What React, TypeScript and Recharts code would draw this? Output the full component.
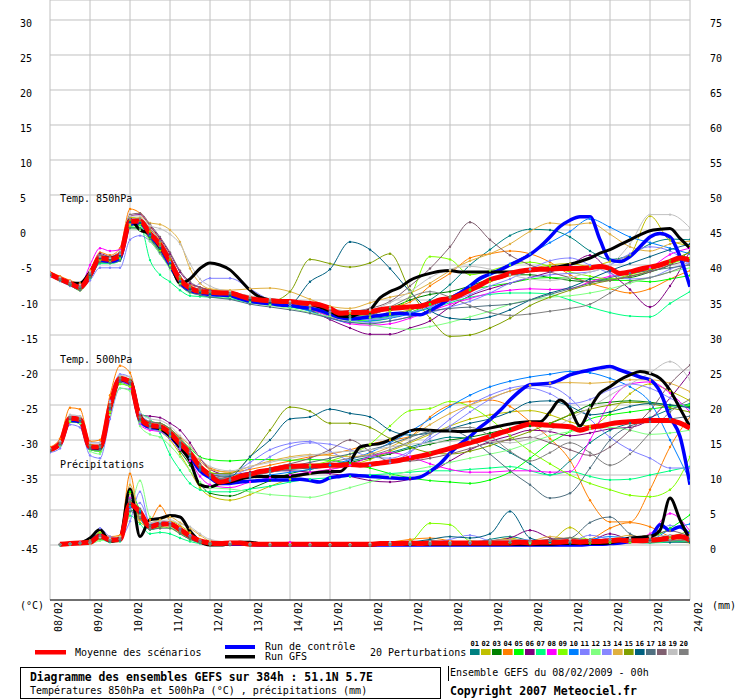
import React from "react";
import { LineChart, Line, XAxis, YAxis, CartesianGrid } from "recharts";

// ---------- axes / categories ----------
const HOURS_6H = [0,6,12,18,24,30,36,42,48,54,60,66,72,78,84,90,96,102,108,114,120,126,132,138,144,150,156,162,168,174,180,186,192,198,204,210,216,222,228,234,240,246,252,258,264,270,276,282,288,294,300,306,312,318,324,330,336,342,348,354,360,366,372,378,384];
const MEMBER_HOURS = [0,6,12,18,24,30,36,42,48,54,60,66,72,78,84,90,96,108,120,132,144,156,168,180,192,204,216,228,240,252,264,276,288,300,312,324,336,348,360,372,384];
const DAY_TICKS = [0,24,48,72,96,120,144,168,192,216,240,264,288,312,336,360,384];
const DAY_LABELS = ["08/02","09/02","10/02","11/02","12/02","13/02","14/02","15/02","16/02","17/02","18/02","19/02","20/02","21/02","22/02","23/02","24/02"];
const LEFT_TICKS = [-45,-40,-35,-30,-25,-20,-15,-10,-5,0,5,10,15,20,25,30];
const RIGHT_TICKS = [0,5,10,15,20,25,30,35,40,45,50,55,60,65,70,75];
const MEMBER_IDS = ["01","02","03","04","05","06","07","08","09","10","11","12","13","14","15","16","17","18","19","20"];
const MEMBER_COLORS = ["#008080","#c0c000","#008000","#ff8000","#00ff00","#800080","#00ff80","#ff00ff","#80ff00","#0080ff","#8080ff","#80ff80","#8888ff","#e0b040","#80a000","#006080","#507080","#806070","#c0c0c0","#808080"];

// ---------- 850 hPa (°C), 6-hourly ----------
const t850Mean = [-6.3,-7.0,-7.6,-8.2,-6.4,-4.0,-4.2,-3.6,1.2,1.3,-0.5,-2.1,-4.5,-7.1,-8.3,-8.8,-8.9,-9.0,-9.0,-9.4,-9.8,-10.0,-10.1,-10.2,-10.2,-10.4,-10.5,-10.7,-11.2,-11.9,-11.8,-11.8,-11.7,-11.4,-11.2,-11.1,-11.0,-10.9,-10.5,-10.0,-9.8,-9.3,-8.6,-7.9,-7.1,-6.7,-6.2,-5.9,-5.7,-5.6,-5.6,-5.5,-5.5,-5.5,-5.4,-5.2,-5.5,-6.2,-6.0,-5.6,-5.3,-5.0,-4.5,-4.0,-4.3];
const t850Gfs = [-6.3,-7.0,-7.6,-7.6,-6.0,-4.0,-4.0,-3.5,1.5,0.0,-0.5,-2.5,-4.5,-7.6,-7.0,-5.5,-4.7,-5.0,-5.7,-7.1,-8.6,-9.6,-10.0,-10.1,-10.2,-10.4,-10.6,-11.0,-11.6,-12.3,-12.4,-11.9,-11.4,-9.7,-8.8,-8.2,-7.2,-6.6,-6.2,-5.9,-5.8,-6.0,-6.0,-6.0,-6.0,-6.0,-6.0,-6.0,-5.8,-5.6,-5.4,-5.2,-4.9,-4.5,-4.0,-3.3,-2.8,-2.1,-1.4,-0.7,-0.1,0.1,0.2,-1.2,-2.6];
const t850Ctrl = [-6.3,-7.0,-7.6,-8.2,-6.6,-4.3,-4.5,-4.0,0.8,1.0,-0.8,-2.5,-5.0,-7.5,-8.6,-9.0,-9.2,-9.3,-9.4,-9.8,-10.2,-10.4,-10.5,-10.7,-10.8,-11.0,-11.2,-11.5,-12.0,-12.5,-12.7,-12.6,-12.4,-12.2,-12.0,-11.9,-12.0,-12.1,-11.5,-10.7,-9.8,-9.0,-8.0,-6.9,-6.3,-5.7,-5.0,-4.3,-3.5,-2.4,-1.0,0.5,1.4,1.9,1.9,-1.4,-4.3,-4.5,-3.8,-2.4,-1.0,-0.5,-1.0,-3.8,-8.1];
const t850Members = [
  [-6.2,-7.1,-7.8,-8.4,-6.6,-4.3,-4.0,-3.8,1.0,0.9,-0.8,-2.6,-4.8,-7.4,-8.6,-9.0,-9.2, -9.3,-10.0,-10.4,-10.6,-11.0,-11.8,-12.5,-12.6,-12.3,-11.5,-10.0,-7.8,-5.0,-2.8,-0.8,0.1,0.0,-1.0,-3.0,-4.2,-3.6,-2.0,-1.3,-1.4],
  [-6.4,-7.0,-7.5,-8.0,-6.2,-3.8,-4.4,-3.4,1.8,1.6,-0.2,-1.8,-4.2,-6.8,-8.0,-8.5,-8.7, -9.0,-9.6,-10.0,-10.4,-10.8,-11.4,-12.0,-12.2,-12.0,-11.4,-10.6,-9.6,-8.5,-7.4,-6.5,-5.6,-5.0,-4.8,-5.2,-4.5,-3.5,2.0,-1.5,-2.2],
  [-6.3,-7.1,-7.7,-8.3,-6.8,-4.4,-4.5,-4.0,0.8,0.7,-1.0,-2.8,-5.0,-7.6,-8.4,-8.8,-9.0, -9.2,-9.9,-10.3,-10.8,-11.3,-11.9,-12.2,-12.0,-11.2,-10.0,-9.2,-8.8,-8.0,-7.0,-6.4,-6.4,-6.8,-7.2,-7.4,-7.0,-6.8,-6.0,-5.0,-3.0],
  [-6.0,-6.6,-7.2,-7.6,-5.8,-3.2,-3.6,-2.6,3.0,2.4,0.5,-1.4,-3.8,-6.6,-7.8,-8.2,-8.5, -8.8,-9.5,-10.0,-10.3,-10.8,-11.4,-11.8,-11.5,-11.0,-10.3,-8.0,-6.2,-4.0,-3.4,-3.0,-3.4,-4.6,-6.4,-7.6,-8.4,-9.0,-8.4,-7.0,-5.8],
  [-6.5,-7.3,-7.9,-8.6,-6.9,-4.6,-4.6,-4.2,0.4,0.3,-1.2,-3.0,-5.2,-7.8,-8.8,-9.1,-9.3, -9.6,-10.2,-10.6,-11.0,-11.5,-12.2,-12.8,-13.0,-12.6,-11.8,-10.6,-9.5,-8.6,-8.0,-7.6,-7.0,-6.8,-6.9,-7.0,-7.2,-7.2,-7.4,-7.0,-6.5],
  [-6.2,-6.8,-7.4,-7.8,-6.0,-3.4,-3.8,-3.0,2.0,2.2,0.6,-1.2,-3.4,-6.0,-7.6,-8.2,-8.6, -9.0,-9.8,-10.3,-10.8,-11.5,-12.8,-14.0,-14.9,-14.9,-14.0,-13.0,-11.0,-9.4,-8.4,-7.6,-6.8,-6.0,-5.0,-3.6,-6.0,-8.5,-11.0,-8.0,-3.0],
  [-6.4,-7.2,-7.8,-8.4,-7.0,-4.8,-4.8,-4.4,0.5,0.7,-4.3,-6.4,-7.4,-8.6,-9.4,-9.5,-9.6, -9.8,-10.4,-10.6,-11.0,-11.4,-12.0,-12.6,-12.8,-12.4,-11.8,-11.2,-10.4,-9.6,-9.2,-9.0,-9.0,-9.2,-10.0,-11.0,-11.8,-12.3,-12.4,-10.5,-8.8],
  [-6.3,-7.0,-7.6,-8.0,-5.0,-2.6,-3.0,-2.8,1.5,1.2,-0.5,-2.4,-4.6,-7.2,-8.2,-8.7,-9.0, -9.2,-9.8,-10.2,-10.6,-11.3,-12.4,-13.4,-13.6,-13.4,-12.6,-11.6,-10.6,-9.8,-9.0,-8.6,-8.4,-8.5,-8.4,-7.4,-6.6,-6.2,-5.4,-3.5,-2.6],
  [-6.5,-7.2,-7.9,-8.5,-6.7,-4.4,-4.4,-4.0,0.6,0.8,-1.4,-3.0,-5.0,-7.6,-8.6,-8.9,-9.1, -9.4,-10.0,-10.5,-10.9,-11.3,-11.8,-12.4,-12.5,-11.6,-9.5,-3.8,-4.2,-6.4,-5.8,-5.0,-4.6,-5.2,-6.0,-6.6,-7.0,-6.4,-5.6,-4.8,-4.0],
  [-6.3,-7.0,-7.7,-8.2,-6.5,-4.1,-4.3,-3.8,1.0,1.1,-0.8,-2.4,-4.6,-7.2,-8.4,-8.8,-9.1, -9.4,-10.0,-10.4,-10.9,-11.6,-12.6,-13.2,-13.0,-12.6,-12.0,-11.0,-9.6,-8.0,-6.4,-4.8,-3.4,-1.8,-0.2,1.6,0.4,-1.0,-1.8,-2.6,-3.4],
  [-6.6,-7.3,-8.0,-8.4,-7.2,-5.4,-5.4,-5.4,-1.4,-0.8,-1.6,-3.4,-5.4,-7.4,-8.6,-7.6,-6.9, -6.9,-8.4,-10.0,-10.6,-11.2,-12.0,-12.8,-13.2,-13.0,-12.4,-11.8,-11.0,-10.2,-9.0,-7.6,-6.8,-6.4,-6.2,-6.0,-5.0,-3.4,-2.4,-3.0,-5.0],
  [-6.4,-7.0,-7.6,-8.1,-6.4,-4.2,-4.0,-3.8,0.2,0.0,-1.6,-3.4,-5.6,-7.8,-9.0,-9.2,-9.4, -9.6,-10.4,-10.8,-11.2,-11.8,-12.4,-13.0,-13.5,-14.0,-14.2,-13.8,-13.2,-12.4,-11.6,-10.6,-10.0,-9.6,-9.4,-9.0,-8.4,-7.6,-6.8,-6.0,-5.4],
  [-6.3,-7.0,-7.7,-8.2,-6.3,-3.9,-4.1,-3.5,0.9,1.0,-0.6,-2.2,-4.4,-7.0,-8.1,-8.5,-8.8, -9.1,-9.8,-10.2,-10.6,-11.0,-11.6,-12.4,-12.8,-12.5,-11.8,-11.0,-10.2,-9.2,-8.0,-7.0,-5.6,-4.4,-4.0,-5.0,-6.2,-7.0,-6.8,-5.6,-4.6],
  [-6.2,-6.8,-7.4,-8.6,-5.8,-4.4,-4.6,-3.0,0.8,1.8,1.0,0.8,0.0,-1.7,-5.5,-7.6,-8.4, -8.6,-8.4,-8.3,-8.8,-9.9,-10.9,-11.2,-10.4,-9.6,-9.0,-7.6,-5.8,-4.4,-3.4,-2.0,-0.2,1.0,0.7,1.0,-0.6,-2.4,-3.0,-2.0,-1.6],
  [-6.4,-7.1,-7.8,-8.3,-6.6,-4.2,-4.3,-3.8,1.4,1.2,-0.4,-2.2,-4.3,-7.0,-8.2,-8.6,-8.9, -9.1,-9.8,-10.2,-8.8,-4.2,-4.8,-5.3,-4.7,-3.4,-8.6,-12.6,-15.2,-15.0,-14.0,-12.6,-10.8,-9.6,-8.6,-7.8,-7.2,-6.6,-5.8,-4.4,-3.2],
  [-6.3,-7.0,-7.6,-8.2,-6.4,-4.0,-4.2,-3.7,1.1,1.0,-0.6,-2.6,-4.8,-7.4,-8.5,-9.0,-9.2, -9.4,-10.0,-10.4,-10.5,-7.4,-5.6,-1.7,-2.8,-5.5,-8.8,-11.5,-12.6,-12.8,-12.4,-11.4,-10.0,-9.0,-8.2,-7.0,-5.8,-4.8,-3.8,-2.8,-2.0],
  [-6.4,-7.2,-7.9,-8.6,-6.8,-4.6,-4.7,-4.4,0.3,0.2,-1.3,-3.2,-5.4,-7.9,-8.9,-9.3,-9.6, -9.9,-10.6,-11.0,-11.4,-11.9,-12.6,-13.2,-13.4,-13.0,-12.4,-11.6,-11.2,-11.0,-10.8,-10.6,-10.0,-9.2,-8.4,-7.6,-6.8,-6.2,-5.8,-5.4,-5.0],
  [-6.2,-6.9,-7.5,-8.0,-6.2,-3.6,-4.0,-3.0,2.2,2.4,0.8,-1.0,-3.2,-5.8,-7.4,-8.2,-8.6, -9.0,-9.6,-10.0,-10.4,-10.8,-11.4,-11.6,-11.2,-10.2,-8.0,-5.5,-2.4,1.1,-1.4,-3.6,-5.0,-6.0,-6.8,-7.4,-7.2,-6.6,-6.0,-5.0,-4.4],
  [-6.2,-6.8,-7.3,-7.8,-6.0,-3.8,-4.0,-3.0,2.0,2.0,0.6,0.2,-0.6,-2.0,-4.8,-7.0,-8.0, -8.8,-9.4,-9.8,-10.2,-10.8,-11.2,-11.6,-11.4,-10.4,-8.8,-6.8,-5.6,-5.2,-5.6,-6.4,-7.0,-7.2,-6.8,-6.0,-5.0,-2.0,2.2,2.2,0.3],
  [-6.3,-7.0,-7.6,-8.1,-6.2,-3.6,-3.8,-3.2,1.6,1.6,0.2,-1.6,-3.8,-6.6,-8.0,-8.5,-8.8, -9.0,-9.7,-10.1,-10.5,-11.0,-11.8,-12.4,-12.2,-11.0,-9.6,-8.8,-9.6,-10.8,-11.8,-12.2,-12.0,-11.6,-11.2,-10.6,-9.0,-7.4,-6.8,-6.0,-4.8],
];

// ---------- 500 hPa (°C), 6-hourly ----------
const t500Mean = [-31.4,-30.5,-26.9,-27.1,-31.0,-31.0,-25.2,-21.2,-21.7,-26.9,-27.9,-28.1,-29.0,-30.5,-31.9,-33.8,-35.0,-36.0,-35.7,-35.2,-34.9,-34.5,-34.3,-34.0,-33.8,-33.7,-33.7,-33.7,-33.6,-33.6,-33.5,-33.6,-33.5,-33.3,-33.1,-32.9,-32.6,-32.3,-32.0,-31.6,-31.2,-30.8,-30.4,-30.0,-29.5,-29.0,-28.6,-28.1,-27.7,-27.8,-27.9,-28.0,-28.1,-28.6,-28.2,-28.0,-27.7,-27.5,-27.4,-27.3,-27.2,-27.2,-27.2,-27.6,-28.3];
const t500Gfs = [-31.4,-30.6,-27.0,-27.0,-31.0,-31.2,-25.6,-21.4,-21.5,-26.5,-28.0,-28.4,-29.4,-31.0,-33.0,-36.4,-36.7,-36.2,-36.0,-35.6,-35.3,-35.2,-35.2,-35.2,-35.2,-35.0,-34.8,-34.6,-34.5,-34.5,-33.1,-31.0,-30.7,-30.5,-30.0,-29.3,-28.7,-28.5,-28.6,-28.7,-28.7,-28.8,-28.7,-28.6,-28.3,-28.0,-27.7,-27.5,-27.4,-27.4,-26.0,-24.3,-25.5,-28.0,-25.5,-23.3,-22.4,-21.4,-20.7,-20.2,-20.5,-21.2,-22.9,-25.5,-28.1];
const t500Ctrl = [-31.4,-30.6,-27.2,-27.4,-31.2,-31.2,-25.4,-21.4,-21.9,-27.2,-28.2,-28.4,-29.4,-31.0,-32.4,-34.4,-35.4,-36.2,-36.2,-36.0,-35.9,-35.8,-35.7,-35.7,-35.7,-35.6,-35.8,-36.0,-35.4,-35.2,-35.0,-35.1,-35.2,-35.3,-35.4,-35.5,-35.5,-35.3,-34.5,-33.4,-31.9,-30.6,-29.5,-28.2,-27.1,-25.8,-24.3,-23.0,-22.1,-22.0,-21.9,-21.4,-20.7,-20.3,-20.0,-19.7,-19.5,-20.0,-20.5,-21.0,-21.4,-23.1,-26.7,-29.5,-36.4];
const t500Members = [
  [-31.6,-30.8,-27.2,-27.6,-31.4,-31.6,-25.8,-21.8,-22.2,-27.4,-28.2,-28.4,-29.4,-31.0,-32.6,-34.4,-35.4, -35.8,-35.2,-34.6,-34.2,-34.0,-33.6,-33.0,-32.4,-31.8,-31.0,-30.2,-29.6,-29.8,-30.4,-31.8,-33.4,-35.0,-33.0,-30.4,-28.6,-27.6,-26.8,-25.6,-24.8],
  [-31.2,-30.2,-26.6,-26.8,-30.6,-30.8,-25.0,-21.0,-21.6,-27.0,-28.2,-28.8,-30.0,-32.0,-34.4,-36.8,-38.0, -38.6,-37.8,-36.6,-35.6,-34.8,-34.2,-33.6,-32.8,-31.6,-30.4,-29.2,-28.0,-27.0,-26.4,-26.0,-25.8,-26.4,-27.4,-28.0,-26.2,-23.4,-22.0,-23.0,-24.4],
  [-31.4,-30.6,-27.0,-27.2,-31.0,-31.2,-25.4,-21.6,-22.0,-27.2,-28.0,-28.4,-29.6,-31.6,-33.6,-36.2,-37.6, -38.0,-37.0,-35.8,-34.8,-34.2,-33.6,-33.2,-32.6,-32.0,-31.2,-30.6,-30.0,-29.6,-29.0,-28.4,-28.0,-27.6,-26.4,-25.0,-24.6,-24.4,-24.6,-25.0,-25.2],
  [-31.0,-29.8,-25.4,-25.6,-30.2,-30.0,-23.6,-19.4,-20.4,-26.0,-27.4,-27.6,-28.4,-29.6,-30.8,-32.6,-34.0, -34.6,-34.2,-33.6,-33.0,-32.4,-32.0,-31.4,-30.6,-30.0,-29.5,-26.7,-25.0,-24.5,-24.3,-25.2,-27.4,-29.8,-32.9,-38.6,-41.7,-41.7,-37.1,-31.0,-26.7],
  [-31.4,-30.4,-26.8,-27.0,-30.8,-30.8,-25.0,-21.0,-21.6,-26.6,-27.4,-27.6,-28.4,-29.8,-31.2,-32.4,-32.8, -33.0,-32.8,-32.8,-32.9,-32.8,-32.9,-33.4,-34.0,-34.8,-35.4,-35.8,-36.0,-36.2,-35.7,-34.6,-32.6,-30.4,-28.8,-27.0,-26.4,-26.0,-25.6,-25.2,-25.0],
  [-31.6,-30.8,-27.4,-27.6,-31.2,-31.4,-25.6,-21.6,-21.8,-26.4,-26.6,-26.8,-27.6,-28.6,-30.4,-32.6,-34.2, -35.0,-34.6,-34.4,-34.4,-34.6,-34.8,-35.2,-35.8,-36.0,-35.6,-34.6,-33.0,-31.4,-30.2,-29.4,-28.6,-28.8,-29.4,-29.0,-28.4,-28.2,-27.0,-24.0,-20.4],
  [-31.6,-30.8,-27.4,-27.6,-31.4,-31.6,-25.8,-22.0,-22.4,-26.0,-27.0,-29.0,-32.1,-34.3,-36.2,-37.1,-37.4, -37.4,-37.0,-36.6,-36.0,-35.6,-35.4,-35.2,-35.0,-34.8,-34.6,-34.4,-34.4,-34.2,-34.0,-33.8,-34.4,-35.0,-34.5,-35.2,-35.7,-35.6,-35.0,-34.4,-33.8],
  [-31.4,-30.6,-27.0,-27.2,-31.2,-31.4,-25.6,-21.6,-22.6,-27.8,-28.6,-28.8,-29.8,-31.4,-33.0,-35.2,-36.4, -36.8,-36.0,-35.4,-35.0,-34.6,-34.2,-33.6,-32.4,-31.8,-32.4,-33.4,-34.2,-34.6,-34.6,-34.4,-34.4,-34.6,-34.5,-30.0,-24.6,-22.0,-21.7,-23.3,-26.0],
  [-31.6,-30.8,-27.4,-27.6,-31.4,-31.6,-26.0,-22.0,-22.4,-27.4,-28.4,-28.6,-29.4,-30.8,-32.2,-33.6,-34.6, -35.0,-34.8,-34.4,-34.0,-33.6,-33.0,-32.0,-30.6,-28.0,-25.8,-25.5,-24.5,-25.2,-27.0,-29.4,-31.6,-33.4,-35.0,-36.2,-37.1,-37.9,-38.1,-37.1,-32.4],
  [-31.2,-30.4,-26.8,-27.0,-30.8,-30.8,-25.0,-21.0,-21.6,-26.8,-27.8,-28.2,-29.2,-30.8,-32.4,-34.2,-35.4, -35.8,-35.4,-35.0,-34.6,-34.2,-33.6,-32.8,-31.8,-30.4,-28.8,-27.0,-25.2,-23.6,-22.4,-21.6,-21.0,-20.6,-20.2,-20.4,-21.2,-22.4,-24.6,-30.0,-35.8],
  [-31.8,-31.2,-27.8,-28.2,-32.2,-32.6,-27.0,-22.6,-22.8,-27.6,-28.4,-28.8,-29.8,-31.2,-32.6,-34.0,-34.8, -34.8,-33.2,-31.4,-30.5,-30.2,-31.6,-33.0,-33.6,-33.2,-31.8,-29.4,-27.0,-25.0,-23.6,-22.6,-22.2,-22.4,-24.0,-27.0,-29.6,-31.4,-32.6,-34.0,-34.0],
  [-31.4,-30.8,-27.2,-27.6,-31.6,-32.0,-26.4,-22.6,-23.0,-28.0,-29.2,-29.6,-30.8,-32.4,-34.4,-36.0,-36.8, -37.0,-37.4,-37.8,-38.0,-38.2,-37.6,-36.8,-36.0,-35.2,-34.4,-33.8,-33.2,-32.6,-32.0,-31.4,-30.4,-29.4,-28.8,-28.4,-28.2,-28.6,-29.2,-29.0,-28.6],
  [-31.2,-30.2,-26.6,-26.6,-30.4,-30.4,-24.4,-20.6,-21.0,-26.2,-27.4,-27.8,-28.8,-30.4,-31.8,-33.6,-34.8, -35.0,-34.0,-32.4,-31.0,-30.4,-30.6,-31.4,-32.4,-32.6,-31.6,-29.8,-28.0,-26.0,-24.2,-23.0,-22.6,-23.4,-24.8,-24.2,-22.8,-22.0,-22.6,-24.0,-25.6],
  [-31.4,-30.6,-27.0,-27.2,-31.0,-31.0,-25.2,-21.4,-21.8,-26.8,-27.6,-27.8,-28.6,-30.0,-31.4,-33.0,-34.2, -34.6,-33.8,-33.0,-32.4,-32.1,-32.2,-32.4,-32.0,-31.0,-29.6,-27.8,-26.2,-25.0,-24.0,-23.0,-22.2,-21.9,-21.8,-21.9,-21.7,-21.4,-21.4,-21.9,-23.1],
  [-31.2,-30.4,-26.8,-27.0,-30.8,-31.0,-25.0,-21.0,-21.4,-26.6,-27.6,-28.0,-29.0,-30.6,-32.0,-33.8,-34.8, -34.8,-32.4,-28.6,-25.3,-25.9,-27.6,-27.6,-28.2,-29.8,-31.0,-31.8,-32.0,-31.6,-30.8,-29.8,-28.8,-27.6,-26.4,-25.6,-25.0,-24.6,-24.8,-25.4,-26.0],
  [-31.4,-30.6,-27.0,-27.2,-31.2,-31.2,-25.4,-21.4,-21.8,-27.0,-27.8,-28.0,-28.8,-30.4,-32.2,-34.0,-35.0, -35.2,-32.4,-30.0,-27.0,-26.7,-25.6,-26.2,-26.7,-28.6,-29.3,-29.0,-28.4,-27.6,-27.0,-26.0,-24.6,-24.4,-25.2,-26.4,-26.0,-25.2,-24.8,-25.0,-25.4],
  [-31.6,-30.6,-27.0,-27.4,-31.2,-31.4,-25.6,-21.6,-22.0,-27.2,-28.0,-28.2,-29.0,-30.6,-32.2,-34.0,-35.2, -35.6,-35.0,-34.4,-33.8,-33.2,-32.6,-32.0,-31.4,-30.6,-29.6,-28.8,-28.6,-29.8,-32.0,-34.4,-36.4,-38.3,-37.6,-34.0,-30.0,-28.0,-27.4,-27.0,-26.6],
  [-31.4,-30.4,-26.8,-27.0,-30.8,-30.8,-25.0,-21.2,-21.6,-26.6,-27.4,-27.6,-28.4,-29.8,-31.4,-33.4,-34.8, -35.4,-34.8,-34.0,-33.4,-32.6,-31.4,-30.0,-31.6,-33.0,-33.0,-32.6,-32.0,-31.2,-30.4,-30.0,-29.6,-30.4,-31.4,-32.2,-31.0,-28.6,-25.8,-22.0,-19.3],
  [-31.2,-30.2,-26.4,-26.6,-30.4,-30.4,-24.6,-20.8,-21.0,-26.0,-27.0,-27.2,-28.0,-29.4,-30.8,-32.6,-33.8, -34.4,-33.8,-33.2,-32.6,-32.2,-31.8,-31.6,-31.4,-31.0,-30.6,-30.4,-30.2,-30.0,-30.2,-30.4,-29.8,-28.6,-27.0,-25.4,-23.6,-22.0,-20.4,-18.8,-21.4],
  [-31.4,-30.4,-26.8,-27.0,-30.8,-31.0,-25.2,-21.2,-21.6,-26.8,-27.8,-28.0,-28.8,-30.2,-31.6,-33.6,-35.0, -35.6,-35.2,-34.6,-34.2,-33.8,-33.2,-32.6,-32.2,-31.4,-30.2,-29.0,-28.4,-28.2,-29.4,-31.6,-33.0,-31.8,-30.4,-31.8,-33.6,-32.0,-29.0,-26.0,-24.2],
];

// ---------- precipitation (mm), 6-hourly ----------
const rainMean = [null,0.1,0.2,0.3,0.4,1.3,0.7,0.8,5.8,4.7,2.6,3.0,3.0,2.2,1.3,0.6,0.3,0.2,0.3,0.3,0.1,0.1,0.1,0.1,0.1,0.1,0.1,0.1,0.1,0.1,0.1,0.1,0.1,0.2,0.2,0.2,0.3,0.2,0.3,0.3,0.3,0.3,0.3,0.3,0.3,0.3,0.3,0.4,0.3,0.4,0.4,0.4,0.5,0.4,0.5,0.5,0.6,0.7,0.6,0.6,0.7,0.8,1.0,1.2,0.7];
const rainGfs = [null,0.0,0.2,0.3,1.0,2.2,0.5,1.0,8.0,1.2,3.6,3.8,4.2,4.0,2.0,0.5,0.0,0.0,0.2,0.4,0.4,0.2,0.1,0.1,0.1,0.1,0.1,0.0,0.0,0.0,0.0,0.0,0.0,0.1,0.1,0.1,0.1,0.1,0.1,0.1,0.1,0.1,0.1,0.1,0.1,0.1,0.1,0.1,0.1,0.1,0.1,0.2,0.2,0.2,0.2,0.2,0.3,0.6,1.0,1.1,1.2,2.1,6.7,3.6,0.7];
const rainCtrl = [null,0.1,0.2,0.3,0.5,1.4,0.6,0.8,5.6,4.6,2.6,2.9,3.0,2.2,1.2,0.5,0.2,0.1,0.1,0.1,0.1,0.0,0.0,0.0,0.0,0.0,0.0,0.0,0.0,0.0,0.0,0.0,0.0,0.0,0.0,0.0,0.0,0.0,0.0,0.0,0.0,0.0,0.0,0.0,0.0,0.0,0.0,0.0,0.0,0.0,0.0,0.0,0.0,0.0,0.1,0.1,0.2,0.3,0.5,0.8,1.0,2.9,2.1,2.6,1.2];
const rainMembers = [
  [null,0,0.1,0.3,0.6,1.6,0.6,0.9,6.5,3.8,2.2,2.6,3.2,2.4,1.2,0.4,0.1, 0.1,0,0,0,0,0,0,0,0.1,0.3,0.6,0.4,0.2,0.8,1.2,0.6,0.3,0.2,0.4,0.6,0.4,0.3,0.8,1.6],
  [null,0.1,0.2,0.2,0.3,0.8,1.0,1.2,7.4,3.2,2.6,2.4,3.4,2.8,1.8,0.8,0.3, 0.2,0,0,0,0,0,0,0.1,0.1,0.2,0.2,0.3,0.3,0.5,1.0,0.4,0.6,2.5,0.6,0.4,0.8,1.2,0.6,0.3],
  [null,0.1,0.1,0.3,0.4,1.4,0.5,0.6,5.0,4.2,2.4,2.8,3.0,2.0,1.0,0.4,0.2, 0.2,0.1,0,0,0,0,0,0,0.1,0.2,0.3,0.4,0.4,0.3,0.2,0.2,0.3,0.4,0.5,0.8,0.6,0.4,0.8,1.4],
  [null,0.1,0.2,0.3,0.6,1.8,1.2,1.4,10.2,3.6,3.6,5.6,3.4,2.6,1.6,0.8,0.4, 0.2,0.1,0,0,0,0,0,0.1,0.4,0.8,1.0,0.6,0.2,0.2,0.3,0.4,0.6,0.4,0.8,2.4,3.2,2.6,1.2,0.4],
  [null,0,0.1,0.2,0.4,1.2,0.8,1.0,7.6,5.0,3.0,3.2,2.8,2.0,1.2,0.5,0.2, 0.1,0,0,0,0,0,0,0,0,0.1,0.2,0.3,0.3,0.3,0.4,0.4,0.6,0.8,0.6,0.4,0.6,1.0,2.4,4.3],
  [null,0.1,0.2,0.4,0.6,1.2,0.6,0.8,6.0,4.6,2.6,2.8,2.8,1.8,1.0,0.5,0.2, 0.1,0,0,0,0,0,0,0,0.1,0.2,0.2,0.3,0.4,0.6,1.0,2.1,1.0,0.4,0.6,1.6,0.8,0.6,1.4,0.8],
  [null,0,0.1,0.2,0.3,0.8,0.4,0.5,4.2,3.0,1.6,1.8,1.6,1.0,0.5,0.2,0.1, 0,0,0,0,0,0,0,0,0,0,0.1,0.1,0.2,0.2,0.3,0.2,0.3,0.3,0.2,0.3,0.4,0.3,0.4,0.6],
  [null,0.1,0.2,0.4,0.4,1.4,0.8,1.0,6.8,4.4,2.4,2.8,3.0,2.0,1.2,0.6,0.3, 0.2,0.1,0.1,0.4,0.2,0.1,0.1,0.1,0.2,0.3,0.4,0.3,0.2,0.3,0.4,0.5,0.6,0.8,0.6,0.6,0.8,1.6,4.5,2.0],
  [null,0.1,0.1,0.3,0.6,1.8,0.6,0.8,5.6,4.0,2.2,2.6,2.4,1.6,0.8,0.3,0.1, 0,0,0,0,0,0,0,0,0.2,0.5,3.1,2.9,0.6,0.4,0.3,0.4,0.6,1.0,0.8,0.6,0.4,0.6,1.2,2.0],
  [null,0,0.1,0.2,0.3,1.0,0.6,0.8,5.4,4.8,2.6,3.2,3.0,2.2,1.4,0.6,0.2, 0.1,0,0,0,0,0,0,0,0,0.1,0.1,0.2,0.2,0.2,0.3,0.3,0.4,0.6,0.8,1.2,1.0,0.8,2.2,3.0],
  [null,0.1,0.2,0.3,0.5,2.4,1.2,1.0,3.4,7.6,3.0,3.4,3.2,2.2,1.4,0.6,0.3, 0.2,0.1,0,0,0,0,0,0.2,0.4,0.2,0.3,0.4,0.5,0.6,0.8,0.7,0.6,0.5,1.4,0.8,0.6,0.5,0.8,1.2],
  [null,0,0.1,0.2,0.2,0.6,0.8,1.0,4.6,9.2,4.0,3.4,2.6,1.8,1.0,0.4,0.2, 0.1,0,0,0,0,0,0,0,0,0.1,0.2,0.2,0.3,0.3,0.4,0.3,0.3,0.4,0.4,0.5,0.6,0.5,0.8,1.0],
  [null,0.1,0.1,0.3,0.4,1.2,0.6,0.8,5.0,6.0,3.2,3.0,3.2,2.4,1.4,0.6,0.3, 0.2,0.1,0.1,0,0,0,0,0,0.1,0.2,0.3,0.8,1.4,0.6,0.4,0.5,0.6,0.4,0.6,0.8,1.0,1.2,2.8,1.6],
  [null,0.1,0.2,0.3,0.4,1.0,0.8,1.2,8.6,4.0,3.2,3.6,4.0,3.2,2.4,1.4,0.6, 0.3,0.2,0.1,0.1,0.1,0.1,0.1,0.2,0.2,0.3,0.4,0.5,0.4,0.6,0.8,0.6,1.2,0.8,0.6,0.8,1.4,0.8,1.0,1.4],
  [null,0.1,0.1,0.2,0.3,0.9,0.6,0.9,6.2,4.4,2.6,2.8,2.8,1.8,1.0,0.4,0.2, 0.1,0,0,0,0,0,0,0,0.1,0.2,0.3,0.3,0.3,0.2,0.3,0.5,0.6,0.4,0.3,0.4,0.8,1.4,1.2,0.6],
  [null,0.1,0.2,0.3,0.4,1.2,0.7,0.9,5.8,4.6,2.8,3.0,3.0,2.2,1.2,0.5,0.2, 0.1,0,0,0,0,0,0,0,0.2,0.4,0.8,1.2,1.0,1.6,4.8,1.0,0.4,0.3,0.6,0.8,0.6,0.6,0.4,0.4],
  [null,0,0.1,0.2,0.3,1.0,0.5,0.6,4.8,3.8,2.2,2.4,2.4,1.6,0.8,0.3,0.1, 0,0,0,0,0,0,0,0,0.1,0.1,0.2,0.2,0.4,0.6,0.4,0.5,0.8,1.0,3.2,4.0,1.6,0.8,0.6,0.8],
  [null,0.1,0.2,0.3,0.5,1.4,0.8,1.0,6.0,5.2,2.8,3.0,3.0,2.2,1.2,0.6,0.3, 0.2,0.1,0.1,0,0,0,0,0.1,0.2,0.3,0.4,0.4,0.3,0.4,0.6,0.5,0.8,1.0,0.6,0.8,1.0,1.4,2.0,1.2],
  [null,0.1,0.2,0.3,0.4,1.1,0.9,1.2,7.0,4.2,3.2,3.4,3.6,3.0,2.6,1.6,0.8, 0.4,0.2,0.2,0.1,0.1,0.1,0.1,0.2,0.3,0.4,0.5,0.4,0.4,0.5,0.6,0.5,0.6,0.8,0.6,0.8,1.0,1.2,1.4,1.2],
  [null,0.1,0.2,0.3,0.4,1.3,0.7,0.9,6.4,4.0,2.4,2.8,2.8,2.0,1.2,0.5,0.2, 0.1,0.1,0,0,0,0,0,0,0.1,0.2,0.3,0.3,0.3,0.4,0.5,0.6,0.6,0.5,0.6,0.8,0.6,0.4,0.6,0.8],
];

const FONT = "'DejaVu Sans Mono', monospace";
const toPts = (hours: number[], vals: (number | null)[]) => hours.map((h, i) => ({ h, v: vals[i] }));

function XTick(props: any) {
  const { x, payload } = props;
  const label = DAY_LABELS[DAY_TICKS.indexOf(payload.value)];
  const tx = x + 12;
  const ty = 602;
  return (
    <text x={tx} y={ty} transform={`rotate(-90 ${tx} ${ty})`} textAnchor="end" fontFamily={FONT} fontSize={10} fill="#000">
      {label}
    </text>
  );
}
function LeftTick(props: any) {
  const { y, payload } = props;
  return (
    <text x={20} y={y + 7.5} textAnchor="start" fontFamily={FONT} fontSize={10} fill="#000">
      {payload.value}
    </text>
  );
}
function RightTick(props: any) {
  const { y, payload } = props;
  return (
    <text x={710} y={y + 7.5} textAnchor="start" fontFamily={FONT} fontSize={10} fill="#000">
      {payload.value}
    </text>
  );
}

function memberLine(key: string, vals: (number | null)[], color: string, axis: string) {
  return (
    <Line
      key={key}
      yAxisId={axis}
      data={toPts(MEMBER_HOURS, vals)}
      dataKey="v"
      type="monotone"
      stroke={color}
      strokeWidth={1}
      dot={{ r: 1.2, fill: color, stroke: "none" }}
      activeDot={false}
      isAnimationActive={false}
      legendType="none"
    />
  );
}
function mainLine(key: string, hours: number[], vals: (number | null)[], color: string, width: number, axis: string) {
  return (
    <Line
      key={key}
      yAxisId={axis}
      data={toPts(hours, vals)}
      dataKey="v"
      type="monotone"
      stroke={color}
      strokeWidth={width}
      dot={false}
      activeDot={false}
      isAnimationActive={false}
      legendType="none"
    />
  );
}

export default function App() {
  const txt = { fontFamily: FONT, fontSize: 10, fill: "#000" } as const;
  return (
    <div style={{ position: "absolute", left: 0, top: 0, width: 740, height: 700, background: "#fff" }}>
      <LineChart width={740} height={700} margin={{ top: 0, right: 0, bottom: 0, left: 0 }}>
        <CartesianGrid yAxisId="left" stroke="#c0c0c0" strokeWidth={1} />
        <XAxis
          dataKey="h"
          type="number"
          domain={[0, 384]}
          ticks={DAY_TICKS}
          height={100}
          tick={<XTick />}
          tickLine={false}
          axisLine={{ stroke: "#000" }}
          allowDataOverflow
        />
        <YAxis
          yAxisId="left"
          type="number"
          domain={[-52.857, 32.857]}
          ticks={LEFT_TICKS}
          width={50}
          tick={<LeftTick />}
          tickLine={false}
          axisLine={false}
          allowDataOverflow
        />
        <YAxis
          yAxisId="right"
          orientation="right"
          type="number"
          domain={[-7.857, 77.857]}
          ticks={RIGHT_TICKS}
          width={50}
          tick={<RightTick />}
          tickLine={false}
          axisLine={false}
          allowDataOverflow
        />
        {t850Members.map((v, k) => memberLine("a" + k, v, MEMBER_COLORS[k], "left"))}
        {t500Members.map((v, k) => memberLine("b" + k, v, MEMBER_COLORS[k], "left"))}
        {rainMembers.map((v, k) => memberLine("c" + k, v, MEMBER_COLORS[k], "right"))}
        {mainLine("ctrl850", HOURS_6H, t850Ctrl, "#0000ff", 3.5, "left")}
        {mainLine("ctrl500", HOURS_6H, t500Ctrl, "#0000ff", 3.5, "left")}
        {mainLine("ctrlR", HOURS_6H, rainCtrl, "#0000ff", 3.5, "right")}
        {mainLine("gfs850", HOURS_6H, t850Gfs, "#000000", 3, "left")}
        {mainLine("gfs500", HOURS_6H, t500Gfs, "#000000", 3, "left")}
        {mainLine("gfsR", HOURS_6H, rainGfs, "#000000", 3, "right")}
        {mainLine("mean850", HOURS_6H, t850Mean, "#ff0000", 5, "left")}
        {mainLine("mean500", HOURS_6H, t500Mean, "#ff0000", 5, "left")}
        {mainLine("meanR", HOURS_6H, rainMean, "#ff0000", 5, "right")}
      </LineChart>
      <svg width={740} height={700} style={{ position: "absolute", left: 0, top: 0, pointerEvents: "none" }}>
        <text x={60} y={202} {...txt}>Temp. 850hPa</text>
        <text x={60} y={363} {...txt}>Temp. 500hPa</text>
        <text x={60} y={468} {...txt}>Précipitations</text>
        <text x={20} y={609} {...txt}>(°C)</text>
        <text x={712} y={609} {...txt}>(mm)</text>

        <rect x={35} y={650} width={31} height={4.5} fill="#ff0000" />
        <text x={75} y={656} {...txt}>Moyenne des scénarios</text>
        <rect x={225} y={645} width={30} height={4} fill="#0000ff" />
        <rect x={225} y={655} width={30} height={3.5} fill="#000000" />
        <text x={265} y={650} {...txt}>Run de contrôle</text>
        <text x={265} y={660} {...txt}>Run GFS</text>
        <text x={370} y={656} {...txt}>20 Perturbations</text>
        {MEMBER_IDS.map((id, i) => (
          <g key={id}>
            <text x={474.8 + i * 11} y={645.5} textAnchor="middle" fontFamily={FONT} fontSize={7} fontWeight="bold" fill="#000">{id}</text>
            <rect x={470 + i * 11} y={649} width={9.6} height={6} fill={MEMBER_COLORS[i]} />
          </g>
        ))}

        <rect x={20.5} y={667.5} width={420} height={31} fill="none" stroke="#000" strokeWidth={1} />
        <text x={30} y={681} fontFamily={FONT} fontSize={11.4} fontWeight="bold" fill="#000">Diagramme des ensembles GEFS sur 384h : 51.1N 5.7E</text>
        <text x={30} y={694} {...txt}>Températures 850hPa et 500hPa (°C) , précipitations (mm)</text>
        <line x1={448.5} y1={666} x2={448.5} y2={681} stroke="#000" strokeWidth={1} />
        <text x={450} y={676} {...txt}>Ensemble GEFS du 08/02/2009 - 00h</text>
        <text x={450} y={695} fontFamily={FONT} fontSize={11.5} fontWeight="bold" fill="#000">Copyright 2007 Meteociel.fr</text>
      </svg>
    </div>
  );
}
